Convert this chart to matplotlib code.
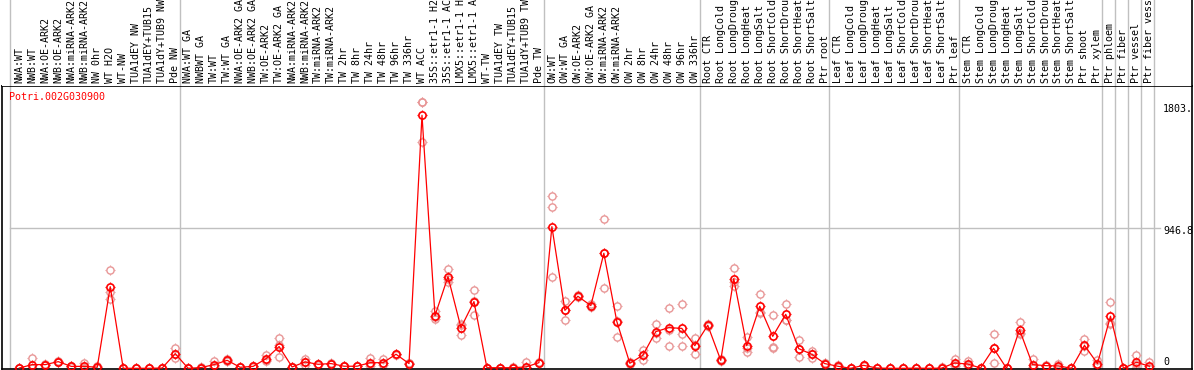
import matplotlib
matplotlib.use("Agg")
from matplotlib import pyplot as plt
from matplotlib.path import Path
import numpy as np

gene = "Potri.002G030900"

samples = ["NWA:WT", "NWB:WT", "NWA:OE-ARK2", "NWB:OE-ARK2", "NWA:miRNA-ARK2", "NWB:miRNA-ARK2",
           "NW 0hr", "WT H2O", "WT-NW", "TUA1dEY NW", "TUA1dEY+TUB15", "TUA1dY+TUB9 NW", "Pde NW",
           "NWA:WT GA", "NWBWT GA", "TW:WT", "TW:WT GA", "NWA:OE-ARK2 GA", "NWB:OE-ARK2 GA",
           "TW:OE-ARK2", "TW:OE-ARK2 GA", "NWA:miRNA-ARK2", "NWB:miRNA-ARK2", "TW:miRNA-ARK2",
           "TW:miRNA-ARK2", "TW 2hr", "TW 8hr", "TW 24hr", "TW 48hr", "TW 96hr", "TW 336hr",
           "WT ACC", "35S::etr1-1 H2", "35S::etr1-1 AC", "LMX5::etr1-1 H", "LMX5::etr1-1 A",
           "WT-TW", "TUA1dEY TW", "TUA1dEY+TUB15", "TUA1dY+TUB9 TW", "Pde TW",
           "OW:WT", "OW:WT GA", "OW:OE-ARK2", "OW:OE-ARK2 GA", "OW:miRNA-ARK2", "OW:miRNA-ARK2",
           "OW 2hr", "OW 8hr", "OW 24hr", "OW 48hr", "OW 96hr", "OW 336hr",
           "Root CTR", "Root LongCold", "Root LongDroug", "Root LongHeat", "Root LongSalt",
           "Root ShortCold", "Root ShortDrou", "Root ShortHeat", "Root ShortSalt", "Ptr root",
           "Leaf CTR", "Leaf LongCold", "Leaf LongDroug", "Leaf LongHeat", "Leaf LongSalt",
           "Leaf ShortCold", "Leaf ShortDrou", "Leaf ShortHeat", "Leaf ShortSalt", "Ptr leaf",
           "Stem CTR", "Stem LongCold", "Stem LongDroug", "Stem LongHeat", "Stem LongSalt",
           "Stem ShortCold", "Stem ShortDrou", "Stem ShortHeat", "Stem ShortSalt", "Ptr shoot",
           "Ptr xylem", "Ptr phloem", "Ptr fiber", "Ptr vessel", "Ptr fiber vess"]

mean = [2, 25, 25, 45, 13, 13, 7, 552, 0, 0, 0, 2, 99,
        0, 5, 25, 54, 7, 13, 65, 147, 9, 43, 27, 32, 14, 14, 38, 38, 95, 32,
        1711, 356, 620, 275, 451, 4, 4, 4, 9, 38,
        958, 392, 487, 424, 778, 316, 34, 88, 248, 275, 270, 153,
        291, 54, 606, 153, 419, 216, 365, 133, 95, 32,
        14, 0, 20, 2, 0, 0, 1, 0, 1, 36,
        29, 2, 135, 0, 261, 25, 18, 16, 0, 155,
        32, 352, 0, 41, 14]

rep1 = [0, 68, 30, 45, 10, 38, 18, 667, 0, 0, 0, 2, 135,
        0, 4, 52, 62, 7, 13, 92, 207, 8, 65, 30, 35, 14, 14, 70, 60, 98, 30,
        1803, 388, 674, 302, 532, 4, 4, 10, 43, 45,
        1163, 453, 495, 435, 1008, 419, 40, 122, 302, 410, 437, 207,
        300, 60, 681, 212, 500, 363, 437, 189, 117, 30,
        20, 0, 22, 2, 0, 0, 1, 0, 10, 65,
        47, 2, 230, 0, 311, 65, 20, 27, 0, 200,
        54, 451, 0, 88, 43]

rep2 = [3, 5, 25, 42, 14, 0, 2, 518, 0, 0, 0, 2, 95,
        0, 6, 13, 50, 7, 15, 56, 155, 9, 44, 25, 30, 13, 14, 30, 35, 93, 33,
        1800, 346, 602, 295, 458, 4, 4, 1, 0, 35,
        1093, 395, 480, 420, 780, 318, 30, 88, 240, 262, 230, 157,
        285, 48, 582, 137, 383, 144, 329, 133, 95, 34,
        12, 0, 18, 2, 0, 0, 1, 0, 0, 30,
        22, 2, 140, 0, 238, 8, 16, 12, 0, 150,
        25, 302, 0, 30, 0]

rep3 = [4, 2, 20, 48, 15, 1, 1, 471, 0, 0, 0, 2, 68,
        0, 5, 10, 50, 7, 11, 47, 79, 10, 20, 26, 31, 15, 14, 14, 20, 94, 33,
        1530, 334, 584, 228, 363, 4, 4, 1, 0, 34,
        620, 329, 486, 417, 546, 210, 32, 54, 203, 153, 149, 95,
        288, 54, 555, 110, 374, 135, 330, 77, 73, 33,
        10, 0, 20, 2, 0, 0, 1, 0, 0, 14,
        18, 2, 36, 0, 234, 2, 18, 9, 0, 115,
        18, 303, 0, 5, 0]

# group separators (between sample positions)
group_lines = [-0.72, 12.37, 40.37, 52.37, 62.37, 72.37, 83.37, 84.37, 85.37, 86.37, 87.37]
y_marks = [1803, 946.8, 0]
y_mark_text = ["1803.", "946.8", "0"]

x = np.arange(len(samples))
W, H = 1194, 370
fig = plt.figure(figsize=(W / 100, H / 100), dpi=100)
mono = "DejaVu Sans Mono"
fs = 7.2
grey = "#c0c0c0"
red = "#ff0000"
pink = "#e89595"

left_px, right_px, top_px, bot_px = 1.5, 1192, 85.5, 369
x_lo = (left_px - 19.3) / 12.99
x_hi = (right_px - 19.3) / 12.99
per_px = 946.8 / (368.3 - 228.3)

ax = fig.add_axes([left_px / W, (H - bot_px) / H, (right_px - left_px) / W, (bot_px - top_px) / H])
hd = fig.add_axes([left_px / W, (H - top_px) / H, (right_px - left_px) / W, top_px / H])

for a in (ax, hd):
    a.set_xlim(x_lo, x_hi)
    a.set_xticks([])
    a.set_yticks([])
    for xl in group_lines:
        a.axvline(xl, color=grey, lw=1, zorder=0)

ax.set_ylim(-(bot_px - 368.3) * per_px, (368.3 - top_px) * per_px)
for s in ax.spines.values():
    s.set_color("black")
    s.set_linewidth(1.2)

hd.set_ylim(0, top_px)
hd.spines["left"].set_visible(False)
hd.spines["top"].set_visible(False)
hd.spines["bottom"].set_visible(False)
hd.spines["right"].set_linewidth(1.2)
for i, lab in enumerate(samples):
    hd.text(i, 2.5, lab, rotation=90, ha="center", va="bottom", fontsize=fs,
            family=mono, clip_on=True)

# horizontal grid at the middle mark
ax.plot([-0.72, 87.8], [946.8, 946.8], color=grey, lw=1, zorder=0)

# marker ticks around circles
ticks = Path([(0, 0.72), (0, 1), (0, -0.72), (0, -1), (0.72, 0), (1, 0), (-0.72, 0), (-1, 0)],
             [Path.MOVETO, Path.LINETO] * 4)

for reps in (rep1, rep2, rep3):
    ax.plot(x, reps, ls="none", marker="o", ms=5.2, mfc="none", mec=pink, mew=1.0, zorder=2)
    ax.plot(x, reps, ls="none", marker=ticks, ms=7.6, mec=pink, mew=0.8, zorder=2)

ax.plot(x, mean, color=red, lw=0.9, zorder=3)
ax.plot(x, mean, ls="none", marker="o", ms=5.2, mfc="none", mec=red, mew=1.2, zorder=4)
ax.plot(x, mean, ls="none", marker=ticks, ms=7.6, mec=red, mew=0.9, zorder=4)

offsets = [-7, -3, 6]
for v, t, off in zip(y_marks, y_mark_text, offsets):
    ax.annotate(t, xy=(88.05, v), xytext=(0, off), textcoords="offset pixels",
                ha="left", va="center", fontsize=fs, family=mono, annotation_clip=False)

ax.text((9 - left_px) / (right_px - left_px), 1 - 11.5 / (bot_px - top_px), gene,
        transform=ax.transAxes, color=red, fontsize=fs, family=mono, ha="left", va="center")

fig.savefig("out.png", dpi=100)
